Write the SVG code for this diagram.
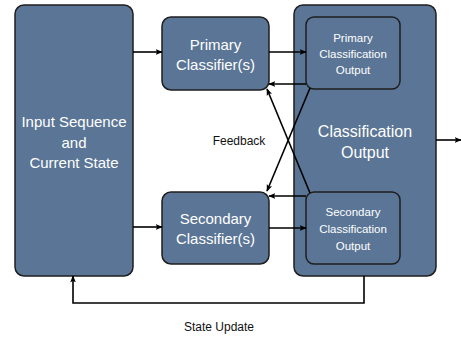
<svg xmlns="http://www.w3.org/2000/svg" width="461" height="337" viewBox="0 0 461 337">
<defs>
<marker id="ah" viewBox="0 0 10 10" refX="9" refY="5" markerWidth="7" markerHeight="7" orient="auto" markerUnits="userSpaceOnUse">
<path d="M0,1 L10,5 L0,9 L2,5 z" fill="#000"/>
</marker>
</defs>
<style>
.box{fill:#5a7595;stroke:#1e1e1e;stroke-width:1.5}
.t{font-family:"Liberation Sans",Arial,sans-serif;fill:#fff;text-anchor:middle}
.lbl{font-family:"Liberation Sans",Arial,sans-serif;fill:#111;text-anchor:middle;font-size:12px}
.c{fill:none;stroke:#000;stroke-width:1.6;marker-end:url(#ah)}
.l{fill:none;stroke:#000;stroke-width:1.6}
</style>
<rect width="461" height="337" fill="#fff"/>
<g id="input">
<rect class="box" x="15" y="5" width="118" height="271" rx="9"/>
<text class="t" font-size="15" x="74" y="127">Input Sequence</text>
<text class="t" font-size="15" x="74" y="148">and</text>
<text class="t" font-size="15" x="74" y="168">Current State</text>
</g>
<g id="primary">
<rect class="box" x="162" y="17" width="107" height="73" rx="9"/>
<text class="t" font-size="15" x="215.5" y="50">Primary</text>
<text class="t" font-size="15" x="215.5" y="70">Classifier(s)</text>
</g>
<g id="secondary">
<rect class="box" x="162" y="192" width="107" height="72" rx="9"/>
<text class="t" font-size="15" x="215.5" y="224">Secondary</text>
<text class="t" font-size="15" x="215.5" y="244">Classifier(s)</text>
</g>
<g id="classification-output">
<rect class="box" x="294" y="5" width="142" height="271" rx="9"/>
<text class="t" font-size="16" x="365" y="137">Classification</text>
<text class="t" font-size="16" x="365" y="158">Output</text>
</g>
<g id="primary-output">
<rect class="box" x="306" y="17" width="94" height="72" rx="8"/>
<text class="t" font-size="11.5" x="353" y="42">Primary</text>
<text class="t" font-size="11.5" x="353" y="58">Classification</text>
<text class="t" font-size="11.5" x="353" y="74">Output</text>
</g>
<g id="secondary-output">
<rect class="box" x="306" y="192" width="94" height="72" rx="8"/>
<text class="t" font-size="11.5" x="353" y="216">Secondary</text>
<text class="t" font-size="11.5" x="353" y="233">Classification</text>
<text class="t" font-size="11.5" x="353" y="250">Output</text>
</g>
<g id="connectors">
<line class="c" x1="133" y1="52" x2="162" y2="52"/>
<line class="c" x1="133" y1="227" x2="162" y2="227"/>
<line class="c" x1="269" y1="52" x2="306" y2="52"/>
<line class="c" x1="269" y1="228" x2="306" y2="228"/>
<line class="c" x1="306" y1="84" x2="269" y2="84"/>
<line class="c" x1="306" y1="196" x2="269" y2="196"/>
<line class="c" x1="310" y1="88" x2="267" y2="191"/>
<line class="c" x1="310" y1="193" x2="267" y2="89"/>
<line class="c" x1="436" y1="140" x2="461" y2="140"/>
<path class="c" d="M364,276 V303 H73 V276"/>
</g>
<text class="lbl" x="239" y="145">Feedback</text>
<text class="lbl" x="219" y="331">State Update</text>
</svg>
